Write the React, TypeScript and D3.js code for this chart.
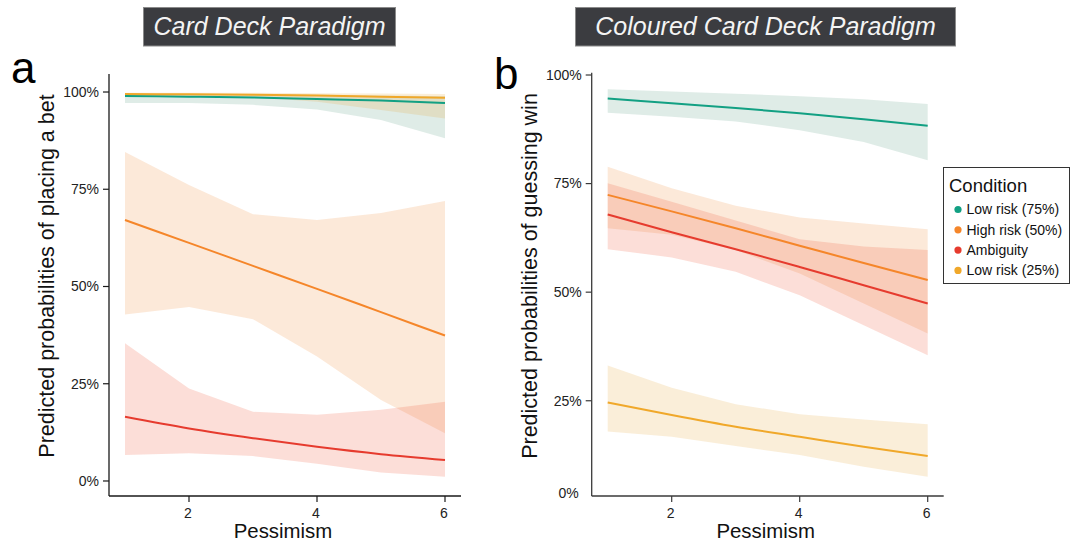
import React from "react";
import * as d3 from "d3";

// ---------- data ----------
const pessimism = [1, 2, 3, 4, 5, 6];
const conditions = ["Low risk (75%)", "High risk (50%)", "Ambiguity", "Low risk (25%)"];
const conditionColors = ["#12a083", "#f5862a", "#e63b2e", "#f0a82a"];
const ribbonColors = ["#5fa087", "#f09141", "#ee5a3a", "#e6aa41"];

const yTickValues = [0, 0.25, 0.5, 0.75, 1];
const yTickLabels = ["0%", "25%", "50%", "75%", "100%"];
const xTickValues = [2, 4, 6];

// Panel a: Card Deck Paradigm (predicted probability of placing a bet)
const cardLow75Fit = [0.990, 0.988, 0.986, 0.982, 0.978, 0.972];
const cardLow75Lower = [0.972, 0.972, 0.967, 0.955, 0.928, 0.881];
const cardLow75Upper = [0.996, 0.995, 0.994, 0.993, 0.991, 0.989];
const cardHigh50Fit = [0.671, 0.612, 0.553, 0.494, 0.434, 0.374];
const cardHigh50Lower = [0.428, 0.447, 0.416, 0.320, 0.208, 0.123];
const cardHigh50Upper = [0.846, 0.761, 0.686, 0.671, 0.689, 0.720];
const cardAmbFit = [0.165, 0.135, 0.110, 0.088, 0.069, 0.054];
const cardAmbLower = [0.067, 0.071, 0.064, 0.044, 0.022, 0.011];
const cardAmbUpper = [0.354, 0.238, 0.178, 0.170, 0.183, 0.204];
const cardLow25Fit = [0.995, 0.994, 0.993, 0.991, 0.988, 0.985];
const cardLow25Lower = [0.990, 0.989, 0.987, 0.975, 0.954, 0.932];
const cardLow25Upper = [0.998, 0.998, 0.998, 0.997, 0.996, 0.995];

// Panel b: Coloured Card Deck Paradigm (predicted probability of guessing win)
const colLow75Fit = [0.946, 0.935, 0.924, 0.912, 0.898, 0.883];
const colLow75Lower = [0.913, 0.904, 0.893, 0.873, 0.846, 0.804];
const colLow75Upper = [0.967, 0.962, 0.957, 0.951, 0.944, 0.933];
const colHigh50Fit = [0.724, 0.686, 0.647, 0.607, 0.567, 0.528];
const colHigh50Lower = [0.647, 0.632, 0.597, 0.543, 0.474, 0.405];
const colHigh50Upper = [0.789, 0.739, 0.699, 0.672, 0.658, 0.645];
const colAmbFit = [0.679, 0.638, 0.599, 0.558, 0.516, 0.474];
const colAmbLower = [0.599, 0.580, 0.547, 0.493, 0.424, 0.355];
const colAmbUpper = [0.751, 0.708, 0.665, 0.622, 0.605, 0.597];
const colLow25Fit = [0.246, 0.217, 0.190, 0.167, 0.144, 0.123];
const colLow25Lower = [0.179, 0.167, 0.146, 0.125, 0.098, 0.075];
const colLow25Upper = [0.331, 0.280, 0.242, 0.219, 0.207, 0.196];

type Series = { fit: number[]; lower: number[]; upper: number[] };

const cardSeries: Series[] = [
  { fit: cardLow75Fit, lower: cardLow75Lower, upper: cardLow75Upper },
  { fit: cardHigh50Fit, lower: cardHigh50Lower, upper: cardHigh50Upper },
  { fit: cardAmbFit, lower: cardAmbLower, upper: cardAmbUpper },
  { fit: cardLow25Fit, lower: cardLow25Lower, upper: cardLow25Upper },
];
const colSeries: Series[] = [
  { fit: colLow75Fit, lower: colLow75Lower, upper: colLow75Upper },
  { fit: colHigh50Fit, lower: colHigh50Lower, upper: colHigh50Upper },
  { fit: colAmbFit, lower: colAmbLower, upper: colAmbUpper },
  { fit: colLow25Fit, lower: colLow25Lower, upper: colLow25Upper },
];

const FONT = "'Liberation Sans', Arial, Helvetica, sans-serif";

type PanelProps = {
  series: Series[];
  xRange: [number, number];
  yDomain: [number, number];
  yRange: [number, number];
  axisColor: string;
  zeroTick: boolean;
  yTitle: string;
  yTitleX: number;
  letter: string;
  letterX: number;
  letterY: number;
  title: string;
  titleBox: [number, number, number, number];
};

function Panel(p: PanelProps) {
  const x = d3.scaleLinear().domain([0.75, 6.25]).range(p.xRange);
  const y = d3.scaleLinear().domain(p.yDomain).range(p.yRange);
  const bottom = p.yRange[0];
  const top = p.yRange[1];
  const left = p.xRange[0];
  const right = p.xRange[1];
  const [bx, by, bw, bh] = p.titleBox;
  return (
    <g fontFamily={FONT}>
      <rect x={bx} y={by} width={bw} height={bh} fill="#3b3c40" stroke="#8a8a8a" strokeWidth={1} />
      <text x={bx + bw / 2} y={by + bh / 2 + 8.5} textAnchor="middle" fill="#f4f4f4" fontSize={25} fontStyle="italic">
        {p.title}
      </text>
      <text x={p.letterX} y={p.letterY} fontSize={44} fill="#000">
        {p.letter}
      </text>
      {p.series.map((s, k) => {
        const a = d3
          .area<number>()
          .x((d) => x(d))
          .y0((_, i) => y(s.lower[i]))
          .y1((_, i) => y(s.upper[i]));
        return <path key={"r" + k} d={a(pessimism) || ""} fill={ribbonColors[k]} fillOpacity={0.2} stroke="none" />;
      })}
      {p.series.map((s, k) => {
        const l = d3
          .line<number>()
          .x((d) => x(d))
          .y((_, i) => y(s.fit[i]))
          .curve(d3.curveMonotoneX);
        return <path key={"l" + k} d={l(pessimism) || ""} fill="none" stroke={conditionColors[k]} strokeWidth={2} />;
      })}
      {/* axes */}
      <line x1={left} x2={left} y1={top} y2={bottom} stroke={p.axisColor} strokeWidth={1.3} />
      <line x1={left} x2={right} y1={bottom} y2={bottom} stroke={p.axisColor} strokeWidth={1.3} />
      {yTickValues.map((v, i) => {
        if (v === 0 && !p.zeroTick) {
          return (
            <text key={"yt" + i} x={left - 13} y={bottom - 3} dy="0.35em" textAnchor="end" fontSize={14} fill="#222">
              {yTickLabels[i]}
            </text>
          );
        }
        return (
          <g key={"yt" + i}>
            <line x1={left - 6} x2={left} y1={y(v)} y2={y(v)} stroke={p.axisColor} strokeWidth={1.2} />
            <text x={left - 10} y={y(v)} dy="0.35em" textAnchor="end" fontSize={14} fill="#222">
              {yTickLabels[i]}
            </text>
          </g>
        );
      })}
      {xTickValues.map((v) => (
        <g key={"xt" + v}>
          <line x1={x(v)} x2={x(v)} y1={bottom} y2={bottom + 6} stroke={p.axisColor} strokeWidth={1.2} />
          <text x={x(v) - 1} y={bottom + 22} textAnchor="middle" fontSize={14} fill="#222">
            {v}
          </text>
        </g>
      ))}
      <text x={(left + right) / 2 - 2} y={538} textAnchor="middle" fontSize={20.4} fill="#111">
        Pessimism
      </text>
      <text
        transform={`translate(${p.yTitleX},${276}) rotate(-90)`}
        textAnchor="middle"
        fontSize={21.5}
        fill="#111"
      >
        {p.yTitle}
      </text>
    </g>
  );
}

function Legend() {
  return (
    <g fontFamily={FONT}>
      <rect x={943.5} y={167.5} width={126} height={116} fill="#fff" stroke="#333" strokeWidth={1} />
      <text x={949} y={192} fontSize={18.5} fill="#111">
        Condition
      </text>
      {conditions.map((c, i) => (
        <g key={c}>
          <circle cx={958} cy={209.5 + i * 20.3} r={3.6} fill={conditionColors[i]} />
          <text x={966.5} y={209.5 + i * 20.3} dy="0.35em" fontSize={14} fill="#111">
            {c}
          </text>
        </g>
      ))}
    </g>
  );
}

export default function App() {
  return (
    <svg width={1078} height={543} style={{ position: "absolute", left: 0, top: 0, background: "#fff" }}>
      <rect width={1078} height={543} fill="#fff" />
      <Panel
        series={cardSeries}
        xRange={[109, 461]}
        yDomain={[-0.0386, 1.0463]}
        yRange={[496, 74]}
        axisColor="#1a1a1a"
        zeroTick={true}
        yTitle="Predicted probabilities of placing a bet"
        yTitleX={54}
        letter="a"
        letterX={11}
        letterY={83}
        title="Card Deck Paradigm"
        titleBox={[143.5, 7.5, 252, 38.5]}
      />
      <Panel
        series={colSeries}
        xRange={[591.7, 943.7]}
        yDomain={[0.0307, 1.0053]}
        yRange={[496, 72.7]}
        axisColor="#3a3a3a"
        zeroTick={false}
        yTitle="Predicted probabilities of guessing win"
        yTitleX={537}
        letter="b"
        letterX={494}
        letterY={89}
        title="Coloured Card Deck Paradigm"
        titleBox={[575.5, 7.5, 380, 38.5]}
      />
      <Legend />
    </svg>
  );
}
